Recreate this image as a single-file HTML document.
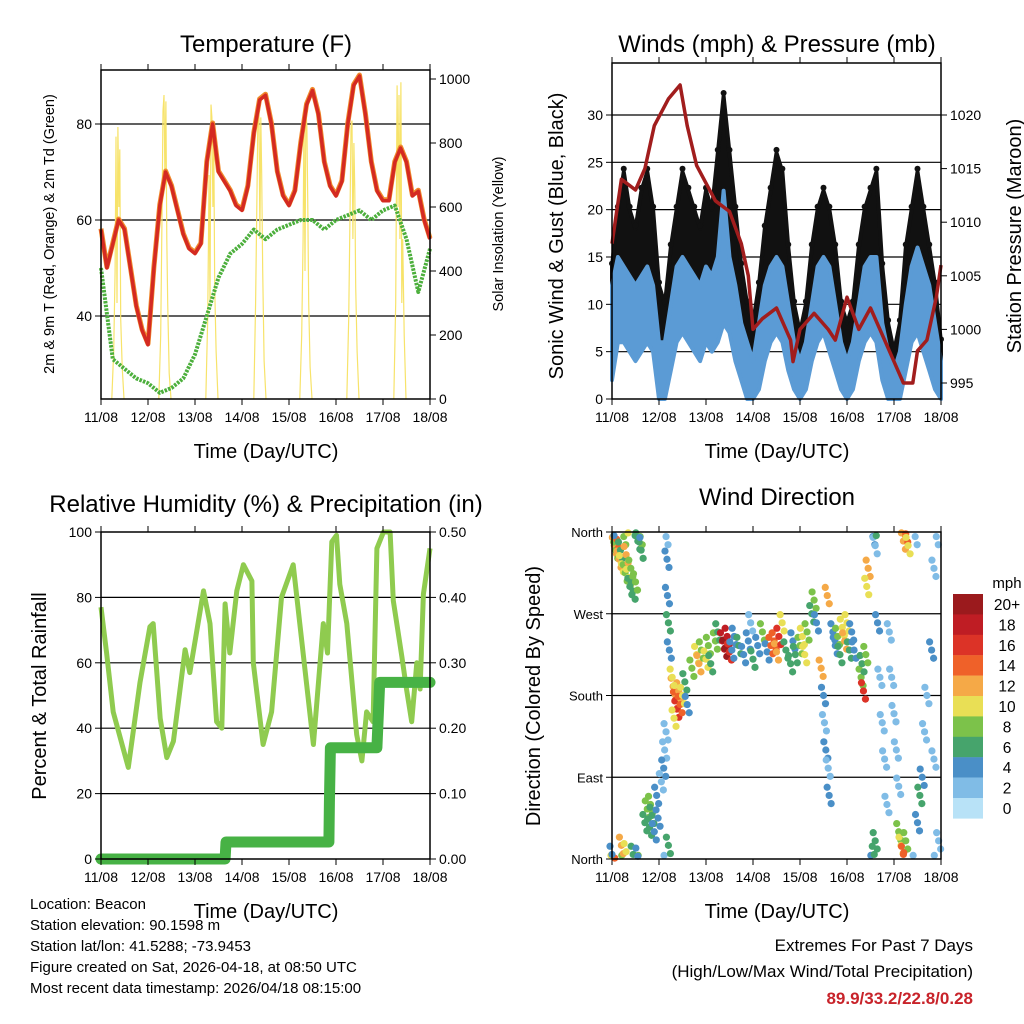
<!DOCTYPE html>
<html><head><meta charset="utf-8"><style>
html,body{margin:0;padding:0;background:#fff}
svg{display:block;font-family:"Liberation Sans",sans-serif}
</style></head><body>
<svg id="c" width="1024" height="1024" viewBox="0 0 1024 1024">
<rect width="1024" height="1024" fill="#fff"/>
<g id="g"></g>
<text x="266" y="52" font-size="24" text-anchor="middle">Temperature (F)</text>
<text x="777" y="52" font-size="24" text-anchor="middle">Winds (mph) &amp; Pressure (mb)</text>
<text x="266" y="512" font-size="24" text-anchor="middle">Relative Humidity (%) &amp; Precipitation (in)</text>
<text x="777" y="505" font-size="24" text-anchor="middle">Wind Direction</text>
<text x="266" y="458" font-size="20" text-anchor="middle">Time (Day/UTC)</text>
<text x="777" y="458" font-size="20" text-anchor="middle">Time (Day/UTC)</text>
<text x="266" y="918" font-size="20" text-anchor="middle">Time (Day/UTC)</text>
<text x="777" y="918" font-size="20" text-anchor="middle">Time (Day/UTC)</text>
<text transform="translate(54,234) rotate(-90)" font-size="14.5" text-anchor="middle">2m &amp; 9m T (Red, Orange) &amp; 2m Td (Green)</text>
<text transform="translate(503,234) rotate(-90)" font-size="14.5" text-anchor="middle">Solar Insolation (Yellow)</text>
<text transform="translate(563,236) rotate(-90)" font-size="20" text-anchor="middle">Sonic Wind &amp; Gust (Blue, Black)</text>
<text transform="translate(1021,236) rotate(-90)" font-size="20" text-anchor="middle">Station Pressure (Maroon)</text>
<text transform="translate(46,696) rotate(-90)" font-size="20" text-anchor="middle">Percent &amp; Total Rainfall</text>
<text transform="translate(540,696) rotate(-90)" font-size="20" text-anchor="middle">Direction (Colored By Speed)</text>
<g font-size="15">
<text x="30" y="909">Location: Beacon</text>
<text x="30" y="930">Station elevation: 90.1598 m</text>
<text x="30" y="951">Station lat/lon: 41.5288; -73.9453</text>
<text x="30" y="972">Figure created on Sat, 2026-04-18, at 08:50 UTC</text>
<text x="30" y="993">Most recent data timestamp: 2026/04/18 08:15:00</text>
</g>
<g font-size="17" text-anchor="end">
<text x="973" y="951">Extremes For Past 7 Days</text>
<text x="973" y="977">(High/Low/Max Wind/Total Precipitation)</text>
<text x="973" y="1004" font-weight="bold" fill="#c8232a">89.9/33.2/22.8/0.28</text>
</g>
</svg>
<script>
const dayLabels=["11/08","12/08","13/08","14/08","15/08","16/08","17/08","18/08"];
// Temperature (3-hourly)
const tempRed=[58,50,55,60,58,50,42,37,34,50,63,70,67,62,57,54,53,55,72,80,70,68,66,63,62,67,78,85,86,80,70,65,63,66,76,84,87,82,72,67,65,68,80,88,90,82,72,66,64,64,72,75,72,65,66,60,56];
const dewT=[0,.25,.5,.75,1,1.25,1.5,1.75,2,2.25,2.5,2.75,3,3.25,3.5,3.75,4,4.25,4.5,4.75,5,5.25,5.5,5.75,6,6.25,6.5,6.75,7];
const dewV=[50,31,29,27,26,24,25,27,32,40,48,53,55,58,56,58,59,60,60,58,60,61,62,60,62,63,56,45,54];
const solarOff=[-.13,-.09,-.06,-.04,-.02,0,.02,.04,.06,.09,.13];
const solarCenters=[.36,1.36,2.36,3.38,4.36,5.36,6.36];
const solarV=[[0,150,400,820,300,850,600,780,250,100,0],[0,200,600,900,950,700,930,500,300,80,0],[0,250,700,300,920,880,600,800,350,150,0],[0,300,650,900,930,500,880,700,400,120,0],[0,200,500,880,400,900,850,600,300,100,0],[0,250,600,850,870,500,800,650,350,150,0],[0,300,980,600,950,500,990,300,500,200,0]];
// Winds (3-hourly)
const gustHi=[14,20,24,20,18,22,24,20,12,10,16,20,24,22,20,18,22,20,26,32,26,20,14,10,8,12,18,22,26,24,16,10,7,10,16,20,22,20,16,10,8,10,16,20,22,24,14,8,5,8,16,20,24,20,16,12,6];
const gustLo=[4,8,8,6,5,6,8,6,2,2,5,8,10,8,6,5,8,6,8,12,10,6,3,2,1,3,6,8,10,8,4,2,1,2,5,8,8,6,4,2,2,2,5,8,8,8,3,1,0,1,5,8,8,6,4,2,1];
const spdHi=[12,15,14,13,12,13,14,12,6,6,10,14,15,14,13,12,14,13,15,22,15,12,8,6,4,8,12,14,15,14,10,6,4,6,10,14,15,14,10,6,4,6,10,14,15,15,8,5,3,5,10,14,16,14,12,8,4];
const spdLo=[2,6,6,5,4,5,6,5,0,0,3,6,7,6,5,4,6,5,6,8,7,4,2,0,0,1,4,6,7,6,3,1,0,1,4,6,7,5,3,1,0,1,4,6,7,6,2,0,0,0,3,6,7,5,3,1,0];
const presT=[0,.2,.5,.7,.9,1.2,1.45,1.6,1.8,2.2,2.5,2.75,2.9,3.0,3.2,3.5,3.8,3.85,4.0,4.3,4.6,4.75,5.0,5.25,5.5,5.8,5.9,6.2,6.4,6.5,6.7,6.9,7.0];
const presV=[1008,1014,1013,1015,1019,1021.5,1022.8,1019,1015.3,1012,1011,1008,1005,1000,1001,1002,999,997,1000,1001.5,1000,999,1003,1000,1002,999,998,995,995,998,999,1003,1006];
// RH & precip
const rhT=[0,.12,.26,.58,.83,1.04,1.11,1.26,1.40,1.54,1.79,1.89,2.18,2.32,2.46,2.57,2.64,2.74,2.89,3.03,3.21,3.24,3.45,3.63,3.84,4.09,4.23,4.52,4.73,4.82,4.91,5.01,5.08,5.23,5.44,5.55,5.65,5.79,5.87,6.01,6.15,6.22,6.40,6.50,6.61,6.72,6.79,6.86,7.0];
const rhV=[77,63,45,28,54,71,72,43,31,36,64,57,82,72,42,40,78,63,82,90,85,60,35,45,80,90,72,35,72,63,97,99,84,72,38,30,45,42,95,100,100,79,62,52,42,60,52,81,95];
const prT=[0,2.64,2.66,4.85,4.86,4.88,5.87,5.90,5.93,7];
const prV=[0,0,0.026,0.026,0.086,0.17,0.17,0.22,0.27,0.27];
// Wind direction points
const wdT=[.02,.05,.08,.1,.15,.18,.2,.25,.28,.3,.35,.38,.4,.45,.5,.55,.6,.62,0,.2,.3,.45,.55,.7,.75,.8,.82,.85,.9,.95,.98,1.15,1.17,1.18,1.2,1.22,1.12,1.1,1.05,1.15,1.2,1.3,1.35,1.38,1.42,1.45,1.5,1.32,1.28,1.55,1.6,1.7,1.8,1.85,1.9,2.0,2.05,2.1,2.2,2.25,2.35,2.4,2.45,2.5,2.55,2.6,2.7,2.8,2.9,2.95,3.0,3.1,3.2,3.3,3.38,3.45,3.5,3.55,3.62,3.7,3.8,3.85,3.9,4.0,4.05,4.1,4.15,4.25,4.3,4.35,4.5,4.52,4.55,4.6,4.62,4.45,4.58,4.7,4.75,4.8,4.85,4.9,4.95,5.0,5.05,5.1,5.15,5.3,5.35,5.32,5.4,5.45,5.42,5.55,5.6,5.65,5.7,5.75,5.8,5.85,5.6,5.58,5.9,5.95,6.0,6.05,6.1,6.1,6.15,6.2,6.25,6.2,6.25,6.3,6.45,6.5,6.55,6.6,6.65,6.7,6.8,6.85,6.85,6.9,6.95];
const wdD=[355,345,340,352,330,340,325,355,315,335,310,300,320,295,305,350,355,340,5,15,8,5,3,40,55,35,60,48,30,70,45,355,330,290,260,230,120,100,85,140,15,190,175,165,185,170,180,155,200,195,170,210,225,215,230,220,235,215,240,250,240,232,245,228,230,245,235,225,240,260,220,235,250,228,235,240,228,245,260,230,215,240,225,235,245,225,250,270,285,260,180,150,120,100,70,210,290,250,235,245,225,255,240,260,230,250,230,200,185,215,225,320,300,355,345,260,200,150,110,60,20,5,250,200,160,120,80,30,15,5,20,350,358,345,355,40,70,90,140,180,230,320,110,355,20];
const wdS=[10,12,8,14,12,6,10,8,8,12,10,6,8,6,8,6,8,6,4,12,10,6,4,6,8,6,8,6,4,4,4,2,4,4,6,4,2,4,2,2,6,12,14,16,12,14,10,10,10,6,4,8,10,12,8,10,8,6,8,6,18,20,18,16,4,4,6,4,4,2,6,4,8,4,14,14,12,16,10,6,6,4,6,8,10,10,8,6,8,4,4,2,4,2,4,12,12,4,4,8,6,10,12,10,6,4,4,8,16,6,8,12,10,4,2,4,2,2,2,2,6,6,2,2,2,2,2,8,10,14,8,12,14,10,2,4,6,4,2,2,4,2,2,2,2];
const spdBins=["20+","18","16","14","12","10","8","6","4","2","0"];
const spdColors=["#9b1a1d","#bf1d24","#dc3327","#ef6129","#f5a947","#e9df55","#7cc24a","#46a46c","#4a8fc7","#80bce6","#b8e2f7"];

const NS="http://www.w3.org/2000/svg";
const G=document.getElementById('g');
function mk(tag,at,parent){const e=document.createElementNS(NS,tag);for(const k in at)e.setAttribute(k,at[k]);(parent||G).appendChild(e);return e;}
function txt(x,y,s,size,anchor,parent){const t=mk('text',{x:x,y:y,'font-size':size,'text-anchor':anchor},parent);t.textContent=s;return t;}

const P1={l:101,r:430,t:70,b:399}, P2={l:612,r:941,t:63,b:399}, P3={l:101,r:430,t:532,b:859}, P4={l:612,r:941,t:532,b:859};
const xd=(P,d)=>P.l+(P.r-P.l)*d/7;
const yT=v=>316-(v-40)*4.8, yS=v=>399-v*0.32;
const yW=v=>399-v*9.467, yP=p=>383-(p-995)*10.72;
const yR=v=>859-v*3.27, yPr=v=>859-v*654;
const yD=d=>859-d*327/360;

function xaxis(P,name){
  const g=mk('g',{});
  
  
  dayLabels.forEach((s,i)=>{const x=xd(P,i);
    mk('line',{x1:x,x2:x,y1:P.b,y2:P.b+6,stroke:'#000','stroke-width':1},g);
    mk('line',{x1:x,x2:x,y1:P.t,y2:P.t-6,stroke:'#000','stroke-width':1},g);
    txt(x,P.b+23,s,14,'middle',g);});
}
function grid(P,ys,name){
  const g=mk('g',{});
  
  
  ys.forEach(y=>mk('line',{x1:P.l,x2:P.r,y1:y,y2:y,stroke:'#000','stroke-width':1.2},g));
}
function frame(P,name){const r=mk('rect',{x:P.l,y:P.t,width:P.r-P.l,height:P.b-P.t,fill:'none',stroke:'#000','stroke-width':1.5});
  
  }
function yticks(P,vals,f,side,labels,name,size){
  const g=mk('g',{});
  
  
  vals.forEach((v,i)=>{const y=f(v);const x=side==='l'?P.l:P.r;const dx=side==='l'?-6:6;
    mk('line',{x1:x,x2:x+dx,y1:y,y2:y,stroke:'#000','stroke-width':1},g);
    txt(x+(side==='l'?-9:9),y+5,labels[i],size||14,side==='l'?'end':'start',g);});
}
function pathOf(xs,ys){return xs.map((x,i)=>(i?'L':'M')+x.toFixed(1)+','+ys[i].toFixed(1)).join('');}

// ---------- Panel 1 ----------
grid(P1,[40,60,80].map(yT),'temp-gridlines');
solarCenters.forEach((c,k)=>{
  const xs=solarOff.map(o=>xd(P1,c+o)), ys=solarV[k].map(yS);
  const p=mk('path',{d:pathOf(xs,ys),fill:'none',stroke:'#f7e36a','stroke-width':1.2});
  
  
});
const tT=tempRed.map((v,i)=>i/8);
let pe=mk('path',{d:pathOf(dewT.map(t=>xd(P1,t)),dewV.map(yT)),fill:'none',stroke:'#4caf3c','stroke-width':4,'stroke-dasharray':'2.5 1.2','stroke-linejoin':'round'});


pe=mk('path',{d:pathOf(tT.map(t=>xd(P1,t)),tempRed.map(v=>yT(v)-1)),fill:'none',stroke:'#f08a2c','stroke-width':5,'stroke-linejoin':'round'});


pe=mk('path',{d:pathOf(tT.map(t=>xd(P1,t)),tempRed.map(yT)),fill:'none',stroke:'#d42a22','stroke-width':3.5,'stroke-linejoin':'round'});


frame(P1,'temp-plot-frame');xaxis(P1,'temp-x-axis');
yticks(P1,[40,60,80],yT,'l',['40','60','80'],'temp-left-axis');
yticks(P1,[0,200,400,600,800,1000],yS,'r',['0','200','400','600','800','1000'],'solar-right-axis');

// ---------- Panel 2 ----------
grid(P2,[5,10,15,20,25,30].map(yW),'wind-gridlines');
const wT=gustHi.map((v,i)=>i/8);
function band(hi,lo,col,name){
  const xs=wT.map(t=>xd(P2,t));
  const d=pathOf(xs,hi.map(yW))+xs.slice().reverse().map((x,i)=>'L'+x.toFixed(1)+','+yW(lo[lo.length-1-i]).toFixed(1)).join('')+'Z';
  const p=mk('path',{d:d,fill:col,stroke:col,'stroke-width':4,'stroke-linejoin':'round'});
  
  
}
band(gustHi,gustLo,'#111','gust-band');
gustHi.forEach((v,i)=>{const c=mk('circle',{cx:xd(P2,wT[i]),cy:yW(v)-3,r:3,fill:'#111'});
  
  });
band(spdHi,spdLo,'#5b9bd5','wind-speed-band');
pe=mk('path',{d:pathOf(presT.map(t=>xd(P2,t)),presV.map(yP)),fill:'none',stroke:'#a11d1d','stroke-width':3.5,'stroke-linejoin':'round'});


frame(P2,'wind-plot-frame');xaxis(P2,'wind-x-axis');
yticks(P2,[0,5,10,15,20,25,30],yW,'l',['0','5','10','15','20','25','30'],'wind-left-axis');
yticks(P2,[995,1000,1005,1010,1015,1020],yP,'r',['995','1000','1005','1010','1015','1020'],'pressure-right-axis');

// ---------- Panel 3 ----------
grid(P3,[20,40,60,80].map(yR),'rh-gridlines');
pe=mk('path',{d:pathOf(rhT.map(t=>xd(P3,t)),rhV.map(yR)),fill:'none',stroke:'#8fcb4f','stroke-width':5,'stroke-linejoin':'round'});


pe=mk('path',{d:pathOf(prT.map(t=>xd(P3,t)),prV.map(yPr)),fill:'none',stroke:'#47b245','stroke-width':11,'stroke-linejoin':'round','stroke-linecap':'round'});


frame(P3,'rh-plot-frame');xaxis(P3,'rh-x-axis');
yticks(P3,[0,20,40,60,80,100],yR,'l',['0','20','40','60','80','100'],'rh-left-axis');
yticks(P3,[0,.1,.2,.3,.4,.5],yPr,'r',['0.00','0.10','0.20','0.30','0.40','0.50'],'precip-right-axis');

// ---------- Panel 4 ----------
grid(P4,[90,180,270].map(yD),'dir-gridlines');
function spdColor(s){const idx=Math.min(10,Math.floor(s/2));return spdColors[10-idx];}
const jit=[[0,0],[2,-9],[-2,9]];
wdT.forEach((t,i)=>{
  jit.forEach(j=>{
    let dd=wdD[i]+j[1]; if(dd>360)dd-=360; if(dd<0)dd+=360;
    const c=mk('circle',{cx:xd(P4,t)+j[0],cy:yD(dd),r:3.6,fill:spdColor(wdS[i])});
    
    
  });
});
frame(P4,'dir-plot-frame');xaxis(P4,'dir-x-axis');
yticks(P4,[0,90,180,270,360],yD,'l',['North','East','South','West','North'],'dir-left-axis',13);
// colorbar
const cb=mk('g',{});


txt(1007,588,'mph',15,'middle',cb);
spdBins.forEach((s,i)=>{const y=594+i*20.4;
  mk('rect',{x:953,y:y,width:30,height:20.6,fill:spdColors[i]},cb);
  txt(1007,y+16,s,15.5,'middle',cb);});
</script>
</body></html>
